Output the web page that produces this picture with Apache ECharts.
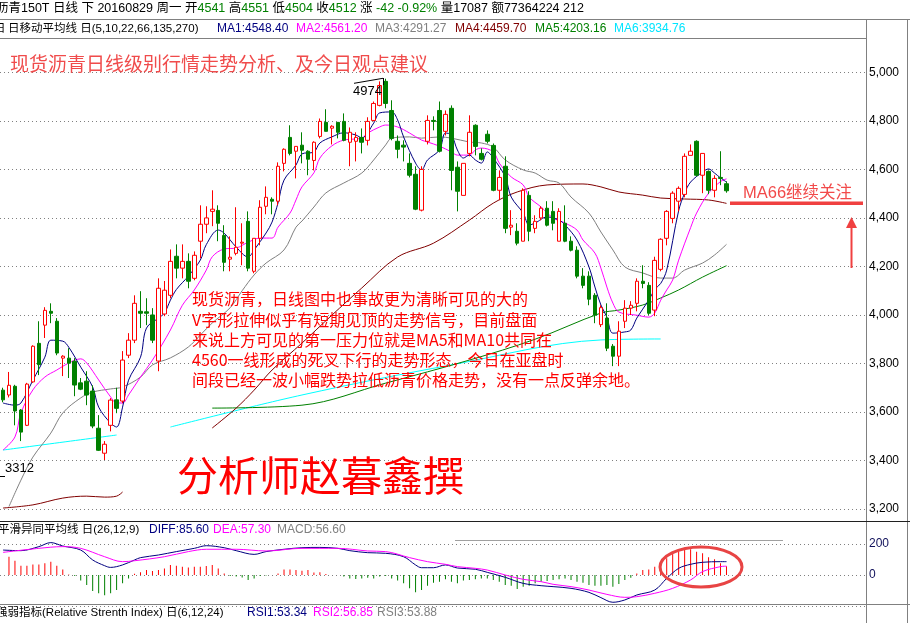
<!DOCTYPE html>
<html><head><meta charset="utf-8">
<script src="https://cdn.jsdelivr.net/npm/echarts@6/dist/echarts.min.js"></script>
<style>html,body{margin:0;padding:0;background:#fff}#c{width:910px;height:623px}</style>
</head><body><div id="c"></div>
<script>
// ---- price data (one candle per trading day, oldest first; last = 2016-08-29) ----
const opens = [3690,3670,3706,3608,3545,3724,3883,3958,4015,3974, 3822,3822,3809,3720,3727,3686,3533,3430,3545,3650, 3645,3834,3896,4015,4013,4000,3810,4004,4081,4242, 4193,4221,4151,4304,4374,4427,4431,4328,4230,4254, 4296,4386,4180,4316,4448,4477,4469,4625,4732,4675, 4700,4675,4637,4736,4794,4770,4794,4798,4712,4716, 4732,4720,4802,4864,4963,4843,4716,4700,4625,4580, 4432,4716,4802,4843,4757,4852,4609,4493,4666,4782, 4666,4745,4699,4514,4613,4362,4345,4304,4493,4357, 4400,4440,4427,4304,4378,4304,4267,4160,4160,4081, 3960,3987,3871,3830,3974,4028,4048,4139,4122,4020, 4188,4316,4398,4469,4497,4658,4716,4576,4592,4514, 4567,4541];
const closes = [3650,3710,3604,3517,3715,3871,3795,4019,4007,3843, 3830,3801,3711,3694,3670,3542,3442,3467,3649,3615, 3814,3896,4048,4007,4007,3896,4110,4102,4221,4193, 4221,4139,4246,4374,4400,4436,4378,4217,4238,4279, 4300,4193,4316,4444,4485,4469,4613,4683,4666,4695, 4679,4642,4712,4798,4757,4778,4753,4720,4753,4732, 4712,4798,4872,4946,4872,4728,4683,4692,4576,4436, 4600,4802,4798,4675,4827,4596,4510,4625,4753,4695, 4642,4716,4514,4567,4357,4370,4296,4514,4345,4386, 4440,4370,4378,4427,4304,4267,4160,4122,4065,4000, 4030,3863,3830,3933,4028,4040,4139,4130,4007,4225, 4312,4427,4502,4522,4654,4675,4576,4666,4514,4563, 4563,4512];
const lows = [3640,3660,3545,3480,3542,3720,3752,3905,3966,3834, 3748,3740,3665,3690,3628,3533,3439,3402,3520,3595, 3636,3822,3884,3946,3958,3884,3768,3995,4069,4151, 4151,4110,4143,4234,4337,4366,4304,4180,4180,4246, 4205,4180,4172,4287,4415,4415,4452,4592,4658,4563, 4625,4576,4596,4728,4757,4703,4728,4716,4613,4633, 4666,4699,4798,4860,4852,4720,4646,4633,4567,4432, 4427,4703,4761,4670,4740,4514,4427,4493,4654,4658, 4637,4707,4510,4473,4337,4329,4287,4304,4304,4337, 4390,4365,4349,4304,4300,4262,4151,4110,4040,3966, 3950,3851,3789,3789,3946,4000,4015,4110,4000,3995, 4180,4287,4378,4427,4485,4658,4571,4502,4498,4485, 4535,4504];
const highs = [3700,3765,3712,3612,3720,3875,3974,4032,4048,3987, 3834,3863,3822,3740,3768,3710,3587,3480,3657,3700, 3851,3925,4081,4098,4069,4028,4151,4140,4270,4291, 4291,4254,4262,4452,4448,4514,4452,4370,4324,4444, 4378,4427,4316,4473,4530,4485,4629,4687,4782,4695, 4753,4679,4716,4810,4848,4782,4794,4831,4773,4753, 4769,4815,4880,4963,4974,4885,4740,4720,4666,4613, 4613,4823,4819,4880,4843,4864,4633,4625,4823,4786, 4687,4761,4707,4596,4654,4432,4378,4522,4510,4411, 4448,4469,4469,4440,4452,4324,4283,4193,4180,4090, 4040,4048,3880,3974,4061,4057,4151,4205,4135,4240, 4316,4432,4510,4530,4666,4703,4720,4666,4596,4576, 4675,4551];

// ---- moving averages: [day index, value] ----
const ma1 = [[0,3637],[2,3628],[3,3637],[5,3731],[7,3826],[8,3896],[10,3892],[11,3867],[13,3785],[15,3703],[16,3620],[18,3554],[19,3538],[20,3620],[21,3731],[23,3826],[24,3946],[26,3987],[27,4008],[28,4061],[29,4105],[31,4160],[33,4226],[34,4290],[36,4350],[37,4337],[39,4280],[41,4239],[42,4268],[44,4338],[45,4383],[46,4462],[47,4556],[49,4618],[50,4664],[52,4672],[53,4709],[55,4734],[57,4751],[59,4742],[60,4730],[62,4791],[63,4833],[65,4837],[66,4804],[67,4734],[69,4626],[70,4598],[71,4639],[73,4680],[74,4750],[75,4742],[76,4680],[77,4647],[78,4659],[79,4639],[80,4626],[81,4672],[82,4647],[84,4569],[85,4486],[87,4420],[88,4371],[89,4379],[91,4404],[93,4391],[94,4371],[96,4309],[98,4198],[99,4115],[100,4041],[101,3991],[102,3925],[104,3930],[105,3938],[106,3987],[108,4061],[109,4105],[110,4130],[111,4185],[113,4430],[114,4502],[115,4548],[117,4589],[118,4602],[119,4585],[120,4565],[121,4548]];
const ma2 = [[0,3443],[2,3497],[3,3596],[5,3691],[7,3744],[9,3773],[11,3802],[13,3819],[14,3802],[16,3732],[18,3662],[19,3637],[20,3637],[21,3670],[23,3744],[25,3814],[28,3938],[30,4040],[32,4103],[34,4185],[35,4240],[37,4272],[39,4276],[41,4300],[43,4317],[45,4317],[46,4362],[48,4420],[49,4474],[50,4528],[52,4586],[53,4647],[55,4697],[57,4721],[60,4729],[61,4750],[63,4775],[64,4783],[66,4775],[68,4750],[70,4721],[71,4713],[73,4696],[75,4672],[76,4659],[78,4659],[79,4680],[80,4688],[82,4672],[83,4626],[85,4569],[87,4536],[88,4486],[90,4445],[92,4400],[94,4379],[96,4350],[97,4309],[99,4255],[100,4193],[101,4115],[102,4049],[103,4012],[106,3999],[108,3991],[109,4008],[110,4061],[111,4103],[112,4144],[113,4226],[115,4360],[116,4420],[118,4502],[120,4550],[121,4561]];
const ma3 = [[1,3210],[3,3319],[5,3414],[8,3513],[10,3596],[13,3658],[15,3682],[18,3695],[20,3703],[23,3744],[25,3794],[28,3823],[31,3868],[33,3917],[35,3967],[38,4030],[40,4100],[42,4165],[44,4214],[47,4268],[49,4362],[50,4387],[52,4445],[54,4503],[57,4544],[60,4585],[62,4639],[64,4701],[65,4729],[68,4734],[70,4729],[73,4734],[75,4729],[78,4713],[80,4709],[82,4692],[84,4639],[87,4598],[89,4585],[91,4556],[93,4544],[95,4486],[98,4420],[100,4342],[102,4268],[104,4198],[107,4173],[110,4152],[112,4152],[114,4185],[117,4214],[119,4247],[121,4291]];
const ma4a = [[0,3204],[5,3217],[10,3245],[14,3253],[17,3249],[19,3253],[20,3270]];
const ma4b = [[35,3534],[39,3616],[42,3690],[45,3773],[50,3884],[55,3999],[60,4111],[66,4239],[72,4296],[78,4391],[82,4461],[86,4507],[91,4536],[97,4540],[100,4528],[103,4507],[107,4494],[110,4482],[114,4478],[118,4474],[121,4460]];
const ma5 = [[35,3616],[50,3628],[64,3719],[78,3814],[89,3900],[100,4008],[103,4020],[107,4041],[110,4070],[113,4103],[117,4156],[121,4203]];
const ma6a = [[0,3443],[19,3505]];
const ma6b = [[28,3538],[50,3670],[75,3794],[100,3897],[110,3901]];

// ---- MACD pane ----
const macdBars = [null, 118,92,60,60,68,68,76,86,60,36,4,-6,-36,-64,-104,-118,-130,-118,-96,-54,-22,8,18,32,26,32,42,64,60,54,48,54,54,58,64,42,10,-6,-10,-16,-32,-22,-6,-4,0,10,36,36,32,28,32,16,18,6,0,0,-10,-22,-26,-22,-18,-22,-10,-6,-22,-36,-54,-86,-112,-96,-70,-50,-44,-28,-44,
 -54,-36,-32,-28,-22,-22,-32,-44,-64,-70,-90,-76,-70,-54,-44,-38,-32,-28,-22,-32,-44,-50,-64,-70,-70,-64,-76,-58,-32,-18,10,32,36,54,76,108,140,154,172,166,150,140,114,102,76,57];
const diff = [[0,161],[3,157],[6,183],[8,209],[10,187],[13,161],[15,97],[17,60],[18,49],[20,65],[22,97],[23,112],[26,129],[29,151],[32,172],[34,189],[37,176],[39,157],[42,133],[44,151],[47,166],[50,176],[53,178],[56,172],[58,157],[61,144],[64,140],[67,118],[69,65],[70,47],[72,47],[74,65],[76,45],[79,37],[81,17],[84,-15],[87,-54],[90,-69],[92,-75],[95,-86],[98,-112],[100,-146],[102,-176],[104,-161],[106,-129],[109,-97],[111,-22],[113,43],[115,69],[117,82],[120,86],[121,86]];
const dea = [[0,146],[6,172],[10,183],[13,172],[17,118],[20,86],[22,92],[27,118],[31,151],[34,166],[39,166],[44,155],[50,172],[56,172],[61,155],[64,151],[68,112],[71,86],[74,69],[76,54],[79,43],[81,32],[84,0],[87,-28],[90,-43],[92,-60],[95,-75],[98,-97],[101,-125],[104,-144],[106,-140],[109,-118],[112,-86],[115,-32],[117,22],[120,54],[121,57]];

const priceTicks = {min: 3200, max: 5000, step: 200};
const macdTicks = {min: -200, max: 200, step: 200};
const slotCount = 145; // candle slots across the pane (right part empty)

// ---------------------------------------------------------------
const slots = Array.from({length: slotCount}, (_, i) => String(i));
const candles = opens.map((o, i) => [o, closes[i], lows[i], highs[i]]);
const CJK = "'Liberation Sans','Noto Sans CJK SC',sans-serif";

function maLine(data, color, clip) {
  return {type: 'line', data, xAxisIndex: 0, yAxisIndex: 0, showSymbol: false, smooth: 0.35,
    lineStyle: {width: 1, color}, itemStyle: {color}, clip: clip !== false, silent: true, z: 3};
}
function txt(text, x, y, fill, size, family, extra) {
  return Object.assign({type: 'text', x, y, z: 50, silent: true,
    style: {text, fill, fontSize: size, fontFamily: family || CJK, verticalAlign: 'middle', align: 'left'}}, extra || {});
}
function ln(x1, y1, x2, y2, stroke, w) {
  return {type: 'line', z: 40, silent: true, shape: {x1, y1, x2, y2}, style: {stroke, lineWidth: w || 1}};
}

const graphics = [
  // frame
  ln(0, 19.5, 910, 19.5, '#808080'),
  ln(0, 38.5, 866, 38.5, '#808080'),
  ln(866.5, 19, 866.5, 623, '#808080'),
  ln(907.5, 19, 907.5, 623, '#808080'),
  ln(0, 521.5, 910, 521.5, '#202020'),
  ln(455, 540.5, 783, 540.5, '#a0a0a0'),
  ln(0, 604.5, 910, 604.5, '#808080'),
  // header row 1
  {type: 'text', x: -4, y: 8.5, z: 50, silent: true, style: {
    text: '{k|沥青150T 日线 下 20160829 周一 开}{g|4541}{k| 高}{g|4551}{k| 低}{g|4504}{k| 收}{g|4512}{k| 涨 }{g|-42 -0.92%}{k| 量17087 额77364224 212}',
    verticalAlign: 'middle', fontSize: 12.5, fontFamily: CJK,
    rich: {k: {fill: '#000', fontSize: 12.5, fontFamily: CJK}, g: {fill: '#008000', fontSize: 12.5, fontFamily: CJK}}}},
  // header row 2
  txt('日', -6, 28.5, '#000', 11.5),
  txt('日移动平均线 日(5,10,22,66,135,270)', 8, 28.5, '#000', 11.5),
  txt('MA1:4548.40', 217, 28.5, '#000080', 12),
  txt('MA2:4561.20', 296, 28.5, '#FF00FF', 12),
  txt('MA3:4291.27', 375, 28.5, '#808080', 12),
  txt('MA4:4459.70', 455, 28.5, '#800000', 12),
  txt('MA5:4203.16', 535, 28.5, '#008000', 12),
  txt('MA6:3934.76', 614, 28.5, '#00E5FF', 12),
  // title
  txt('现货沥青日线级别行情走势分析、及今日观点建议', 10, 63.5, '#F04B4B', 19, "'Noto Sans CJK SC',sans-serif"),
  // commentary
  txt('现货沥青，日线图中也事故更为清晰可见的大的', 192, 299, '#FF0000', 16, "'Noto Sans CJK SC',sans-serif"),
  txt('V字形拉伸似乎有短期见顶的走势信号，目前盘面', 192, 319.5, '#FF0000', 16, "'Noto Sans CJK SC',sans-serif"),
  txt('来说上方可见的第一压力位就是MA5和MA10共同在', 192, 339.5, '#FF0000', 16, "'Noto Sans CJK SC',sans-serif"),
  txt('4560一线形成的死叉下行的走势形态，今日在亚盘时', 192, 359.5, '#FF0000', 16, "'Noto Sans CJK SC',sans-serif"),
  txt('间段已经一波小幅跌势拉低沥青价格走势，没有一点反弹余地。', 192, 379.5, '#FF0000', 16, "'Noto Sans CJK SC',sans-serif"),
  txt('分析师赵暮鑫撰', 177, 475, '#FF0000', 41, "'Noto Sans CJK SC',sans-serif"),
  // MA66 note
  txt('MA66继续关注', 743, 193, '#F24A4A', 16.5, CJK),
  {type: 'rect', z: 40, silent: true, shape: {x: 730, y: 201.5, width: 133, height: 3.5}, style: {fill: '#F04040'}},
  {type: 'rect', z: 40, silent: true, shape: {x: 850.5, y: 226, width: 2, height: 42}, style: {fill: '#F04040'}},
  {type: 'polygon', z: 40, silent: true, shape: {points: [[846, 228], [857, 228], [851.5, 217]]}, style: {fill: '#F04040'}},
  // high / low markers
  txt('4974', 353, 91.5, '#000', 13, "'Liberation Sans',sans-serif"),
  ln(354, 83.3, 383, 78.3, '#000'),
  ln(383.5, 78, 383.5, 85, '#000'),
  txt('3312', 5, 468, '#000', 13, "'Liberation Sans',sans-serif"),
  ln(0, 476.5, 5, 476.5, '#000'),
  // MACD header
  txt('平滑异同平均线 日(26,12,9)', -2, 530, '#000', 11.5),
  txt('DIFF:85.60', 149, 530, '#000080', 12),
  txt('DEA:57.30', 213, 530, '#FF00FF', 12),
  txt('MACD:56.60', 277, 530, '#808080', 12),
  {type: 'ellipse', z: 45, silent: true, shape: {cx: 701, cy: 567, rx: 41, ry: 20}, style: {fill: 'none', stroke: '#E84444', lineWidth: 3}},
  // RSI header
  txt('强弱指标(Relative Strenth Index) 日(6,12,24)', -4, 613, '#000', 11.5),
  txt('RSI1:53.34', 247, 613, '#000080', 12),
  txt('RSI2:56.85', 313, 613, '#FF00FF', 12),
  txt('RSI3:53.88', 377, 613, '#808080', 12)
];

const chart = echarts.init(document.getElementById('c'), null, {renderer: 'canvas'});
chart.setOption({
  animation: false,
  backgroundColor: '#fff',
  grid: [
    {left: -3, width: 870, top: 72.4, height: 436.6},
    {left: -3, width: 870, top: 544, height: 62}
  ],
  xAxis: [
    {type: 'category', data: slots, gridIndex: 0, boundaryGap: true, show: false},
    {type: 'category', data: slots, gridIndex: 1, boundaryGap: true, show: false}
  ],
  yAxis: [
    {type: 'value', gridIndex: 0, position: 'right', min: priceTicks.min, max: priceTicks.max, interval: priceTicks.step,
      axisLine: {show: false}, axisTick: {show: false},
      axisLabel: {margin: 2, fontSize: 12, color: '#000', fontFamily: "'Liberation Sans',sans-serif"},
      splitLine: {show: true, lineStyle: {color: '#808080', width: 1, type: [1, 3]}}},
    {type: 'value', gridIndex: 1, position: 'right', min: macdTicks.min, max: macdTicks.max, interval: macdTicks.step,
      axisLine: {show: false}, axisTick: {show: false},
      axisLabel: {margin: 2, fontSize: 12, color: '#10105a', showMinLabel: false, fontFamily: "'Liberation Sans',sans-serif"},
      splitLine: {show: true, lineStyle: {color: '#808080', width: 1, type: [1, 3]}}}
  ],
  series: [
    {type: 'candlestick', data: candles, xAxisIndex: 0, yAxisIndex: 0, barWidth: 4, z: 4,
      itemStyle: {color: '#FFFFFF', color0: '#008000', borderColor: '#FF0000', borderColor0: '#008000', borderWidth: 1}},
    maLine(ma6a, '#00FFFF'), maLine(ma6b, '#00FFFF'),
    maLine(ma5, '#008000'),
    maLine(ma4a, '#800000'), maLine(ma4b, '#800000'),
    maLine(ma3, '#808080'),
    maLine(ma2, '#FF00FF'),
    maLine(ma1, '#000080'),
    {type: 'bar', data: macdBars, xAxisIndex: 1, yAxisIndex: 1, barWidth: 1, silent: true,
      itemStyle: {color: p => (p.value >= 0 ? '#FF0000' : '#008000')}},
    {type: 'line', data: diff, xAxisIndex: 1, yAxisIndex: 1, showSymbol: false, smooth: 0.35, clip: false,
      lineStyle: {width: 1, color: '#000080'}, silent: true},
    {type: 'line', data: dea, xAxisIndex: 1, yAxisIndex: 1, showSymbol: false, smooth: 0.35, clip: false,
      lineStyle: {width: 1, color: '#FF00FF'}, silent: true}
  ],
  graphic: graphics
});
</script></body></html>
